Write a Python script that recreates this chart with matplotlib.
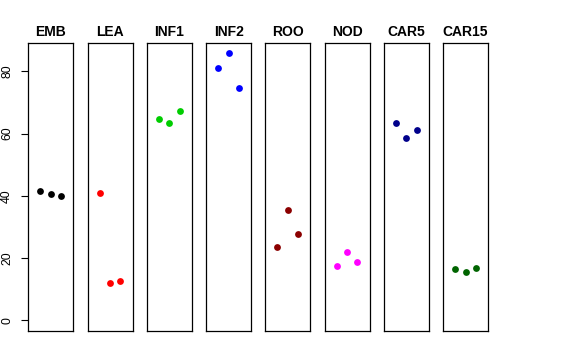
import matplotlib

matplotlib.use("Agg")
import matplotlib.pyplot as plt  # noqa: E402

plt.rcParams["font.family"] = ["Liberation Sans", "DejaVu Sans"]

# one panel per group, three replicate values each
groups = ["EMB", "LEA", "INF1", "INF2", "ROO", "NOD", "CAR5", "CAR15"]
emb = [41.6, 40.5, 40.0]
lea = [40.8, 12.0, 12.5]
inf1 = [64.6, 63.5, 67.3]
inf2 = [81.0, 85.8, 74.7]
roo = [23.6, 35.3, 27.7]
nod = [17.4, 22.1, 18.7]
car5 = [63.3, 58.5, 61.1]
car15 = [16.6, 15.6, 16.8]
values = [emb, lea, inf1, inf2, roo, nod, car5, car15]
colors = ["black", "#FF0000", "#00CD00", "#0000FF", "#8B0000", "#FF00FF", "#00008B", "#006400"]
yticks = [0, 20, 40, 60, 80]

fig = plt.figure(figsize=(5.76, 3.6), dpi=100)
W, H = 576, 360
left0, pw, step = 28.3, 45.0, 59.25
top, bottom = 42.7, 331.0
ymax = max(max(v) for v in values)
ylo, yhi = -0.04 * ymax, ymax * 1.04

for i, (g, v, c) in enumerate(zip(groups, values, colors)):
    x0 = left0 + i * step
    ax = fig.add_axes([x0 / W, 1 - bottom / H, pw / W, (bottom - top) / H])
    ax.plot([1, 2, 3], v, "o", color=c, markersize=4.9, markeredgewidth=0)
    ax.set_xlim(-0.16, 4.16)
    ax.set_ylim(ylo, yhi)
    ax.set_xticks([])
    for s in ax.spines.values():
        s.set_linewidth(0.9)
    ax.set_title(g, fontsize=10, fontweight="bold", pad=5)
    if i == 0:
        ax.set_yticks(yticks)
        ax.tick_params(axis="y", length=5, width=0.8, pad=6, labelsize=8.8, labelrotation=90)
        for lab in ax.get_yticklabels():
            lab.set_va("center")
    else:
        ax.set_yticks([])

fig.savefig("out.png", dpi=100)
plt.close(fig)
